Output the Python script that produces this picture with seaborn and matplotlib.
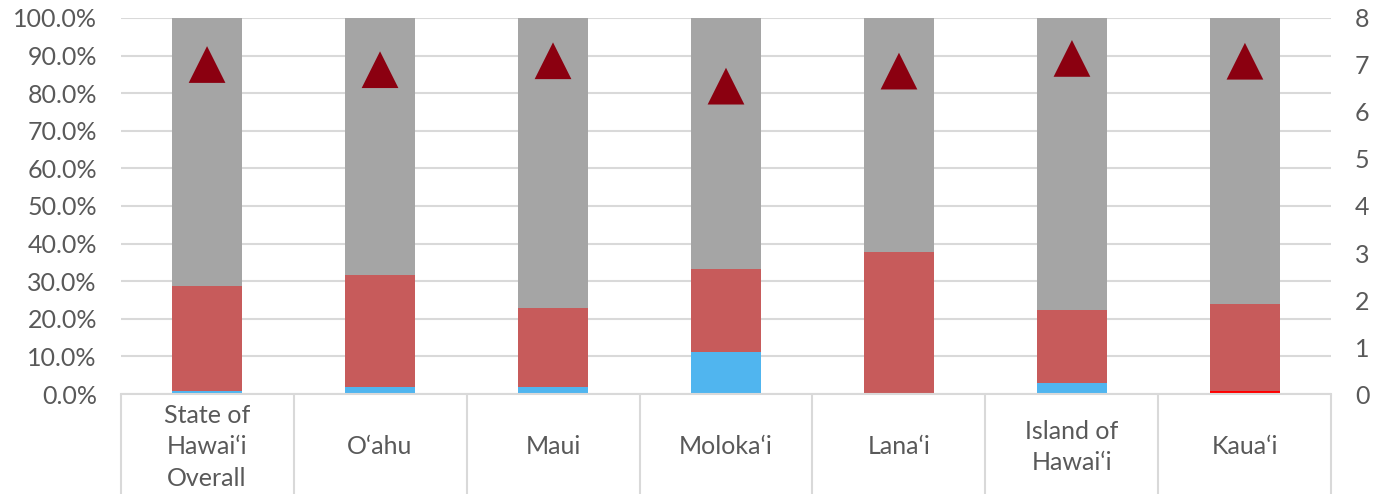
import matplotlib
matplotlib.use("Agg")
import matplotlib.pyplot as plt
import matplotlib.transforms as mtrans
import seaborn as sns
import pandas as pd
import numpy as np

# --- data ---
regions = ["State of\nHawai\u2018i\nOverall", "O\u2018ahu", "Maui", "Moloka\u2018i",
           "Lana\u2018i", "Island of\nHawai\u2018i", "Kaua\u2018i"]
blue_pct = [0.9, 1.9, 1.9, 11.1, 0.0, 2.9, 0.0]
brightred_pct = [0.0, 0.0, 0.0, 0.0, 0.0, 0.0, 0.9]
salmon_pct = [27.8, 29.7, 21.0, 22.1, 37.8, 19.4, 23.0]
gray_pct = [100 - b - r - s for b, r, s in zip(blue_pct, brightred_pct, salmon_pct)]
triangle_vals = [7.01, 6.90, 7.09, 6.55, 6.87, 7.14, 7.08]

df = pd.DataFrame({
    "region": regions,
    "blue": blue_pct,
    "brightred": brightred_pct,
    "salmon": salmon_pct,
    "gray": gray_pct,
    "tri": triangle_vals,
})
# cumulative tops for stacking (draw tallest first)
df["top_gray"] = df[["blue", "brightred", "salmon", "gray"]].sum(axis=1)
df["top_salmon"] = df[["blue", "brightred", "salmon"]].sum(axis=1)
df["top_brightred"] = df[["blue", "brightred"]].sum(axis=1)
df["top_blue"] = df["blue"]

sns.set_theme(style="white")
plt.rcParams["font.family"] = ["Lato", "DejaVu Sans"]
txt = "#595959"
grid_c = "#d9d9d9"

fig = plt.figure(figsize=(13.81, 4.94), dpi=100)
ax = fig.add_axes([0.0873, 0.2024, 0.8768, 0.7612])

layers = [("top_gray", "#a5a5a5"), ("top_salmon", "#c75b5b"),
          ("top_brightred", "#ff0000"), ("top_blue", "#50b5ef")]
for col, colr in layers:
    sns.barplot(data=df, x="region", y=col, color=colr, width=0.4,
                saturation=1, ax=ax, zorder=2, linewidth=0)

ax.set_ylim(0, 100)
ax.set_xlim(-0.5, len(regions) - 0.5)
ax.set_yticks(np.arange(0, 101, 10))
ax.set_yticklabels([f"{v:.1f}%" for v in np.arange(0, 101, 10)])
ax.yaxis.grid(True, color=grid_c, linewidth=1.5, zorder=0)
ax.set_axisbelow(True)
ax.set_xlabel("")
ax.set_ylabel("")
for s in ["top", "right", "left"]:
    ax.spines[s].set_visible(False)
ax.spines["bottom"].set_color(grid_c)
ax.spines["bottom"].set_linewidth(1.5)
ax.tick_params(axis="y", length=0, pad=17, labelsize=18, labelcolor=txt)
ax.tick_params(axis="x", length=0, pad=38, labelsize=18, labelcolor=txt)
for lab in ax.get_xticklabels():
    lab.set_va("center")
    lab.set_linespacing(1.45)

# category separators below the axis
trans = mtrans.blended_transform_factory(ax.transData, ax.transAxes)
bounds = np.arange(len(regions) + 1) - 0.5
ax.vlines(bounds, -0.27, 0, transform=trans, color=grid_c, linewidth=1.5,
          clip_on=False)

# secondary axis with triangles
ax2 = ax.twinx()
sns.scatterplot(data=df, x="region", y="tri", marker="^", s=700,
                color="#8b0010", edgecolor="none", ax=ax2, zorder=5)
ax2.set_ylim(0, 8)
ax2.set_xlim(-0.5, len(regions) - 0.5)
ax2.set_yticks(range(0, 9))
ax2.set_ylabel("")
for s in ["top", "right", "left", "bottom"]:
    ax2.spines[s].set_visible(False)
ax2.tick_params(axis="y", length=0, pad=17, labelsize=18, labelcolor=txt)

fig.savefig("out.png", dpi=100)
